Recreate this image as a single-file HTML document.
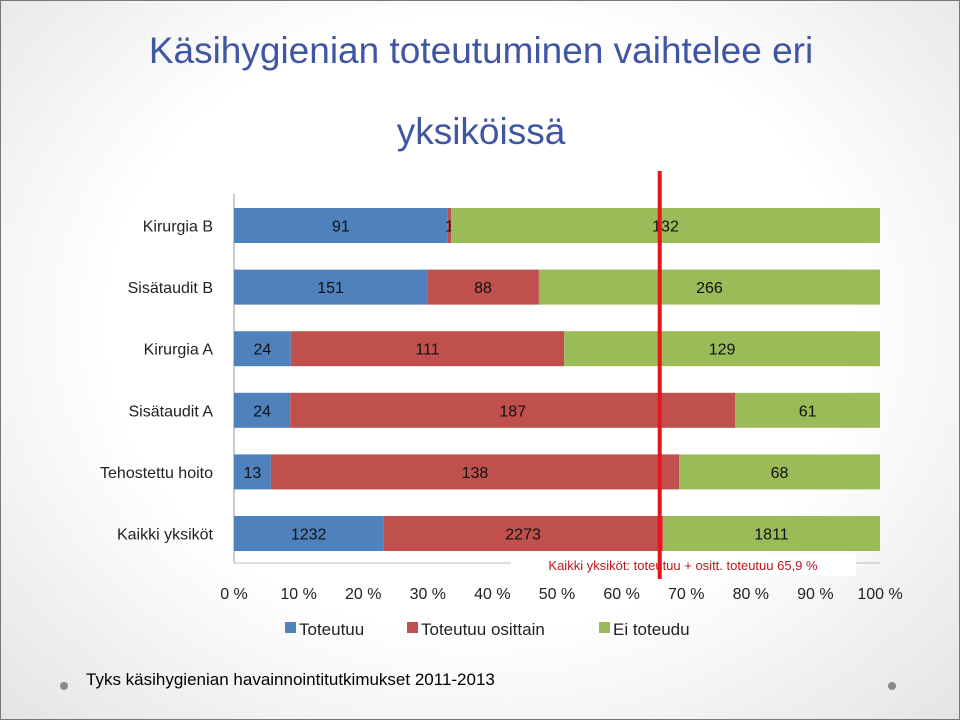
<!DOCTYPE html>
<html><head><meta charset="utf-8"><style>
body{margin:0;width:960px;height:720px;overflow:hidden;font-family:"Liberation Sans",sans-serif;}
#slide{position:relative;width:958px;height:718px;border:1px solid #777;background:radial-gradient(ellipse at 50% 45%,#ffffff 55%,#e4e4e4 100%);}
</style></head><body>
<div id="slide">
<svg width="958" height="718" xmlns="http://www.w3.org/2000/svg" id="chart">
<text x="480" y="62" text-anchor="middle" font-size="37" fill="#3f56a3">Käsihygienian toteutuminen vaihtelee eri</text>
<text x="480" y="143" text-anchor="middle" font-size="37" fill="#3f56a3">yksiköissä</text>
<g id="plot"></g>
<text x="85" y="684" font-size="17" fill="#000">Tyks käsihygienian havainnointitutkimukset 2011-2013</text>
<circle cx="63" cy="685" r="4" fill="#8a8a8a"/>
<circle cx="891" cy="685" r="4" fill="#8a8a8a"/>
</svg>
</div>
<script>
const categories=["Kirurgia B","Sisätaudit B","Kirurgia A","Sisätaudit A","Tehostettu hoito","Kaikki yksiköt"];
const seriesNames=["Toteutuu","Toteutuu osittain","Ei toteudu"];
const sharesToteutuu=[33.1,29.9,8.8,8.7,5.7,23.1];
const sharesOsittain=[0.5,17.3,42.3,68.9,63.2,43.3];
const sharesEi=[66.4,52.8,48.9,22.4,31.1,33.6];
const labelsToteutuu=["91","151","24","24","13","1232"];
const labelsOsittain=["1","88","111","187","138","2273"];
const labelsEi=["132","266","129","61","68","1811"];
const tickLabels=["0 %","10 %","20 %","30 %","40 %","50 %","60 %","70 %","80 %","90 %","100 %"];
const refLine=65.9;
const colors=["#4f81bd","#c0504d","#9bbb59"];
const NS="http://www.w3.org/2000/svg";
const g=document.getElementById('plot');
const x0=233,x1=879;
const xs=v=>x0+(x1-x0)*v/100;
const yTop=207,step=61.6,bh=35;
const ys=i=>yTop+i*step;
function el(t,a){const e=document.createElementNS(NS,t);for(const k in a)e.setAttribute(k,a[k]);g.appendChild(e);return e;}
let ax=el('line',{x1:x0,y1:193,x2:x0,y2:562,stroke:'#999','stroke-width':1});


let hx=el('line',{x1:x0,y1:562,x2:x1,y2:562,stroke:'#bbb','stroke-width':1});


const all=[sharesToteutuu,sharesOsittain,sharesEi],labs=[labelsToteutuu,labelsOsittain,labelsEi];
const segNames=['toteutuu','osittain','ei-toteudu'];
categories.forEach((c,i)=>{
  const t=el('text',{x:212,y:ys(i)+bh/2+6,'text-anchor':'end','font-size':16,fill:'#222'});
  t.textContent=c;
  
  
  let acc=0;
  all.forEach((s,k)=>{
    const v=s[i];
    const r=el('rect',{x:xs(acc),y:ys(i),width:xs(acc+v)-xs(acc),height:bh,fill:colors[k]});
    
    
    const l=el('text',{x:(xs(acc)+xs(acc+v))/2,y:ys(i)+bh/2+6,'text-anchor':'middle','font-size':16,fill:'#111'});
    l.textContent=labs[k][i];
    
    
    acc+=v;
  });
});
tickLabels.forEach((tl,i)=>{
  const t=el('text',{x:xs(i*10),y:598,'text-anchor':'middle','font-size':16,fill:'#222'});
  t.textContent=tl;
  
  
});
const box=el('rect',{x:510,y:553,width:345,height:22,fill:'#fff'});


const an=el('text',{x:682,y:569,'text-anchor':'middle','font-size':13,fill:'#c0141b'});
an.textContent='Kaikki yksiköt: toteutuu + ositt. toteutuu 65,9 %';


const rl=el('line',{x1:xs(refLine),y1:170,x2:xs(refLine),y2:578,stroke:'#e8131b','stroke-width':4});


let lx=284;
const lw=[105,175,100];
seriesNames.forEach((n,k)=>{
  const r=el('rect',{x:lx,y:621,width:11,height:11,fill:colors[k]});
  
  
  const t=el('text',{x:lx+14,y:634,'font-size':17,fill:'#222'});
  t.textContent=n;
  
  
  lx+=[122,192,0][k];
});
</script>
</body></html>
